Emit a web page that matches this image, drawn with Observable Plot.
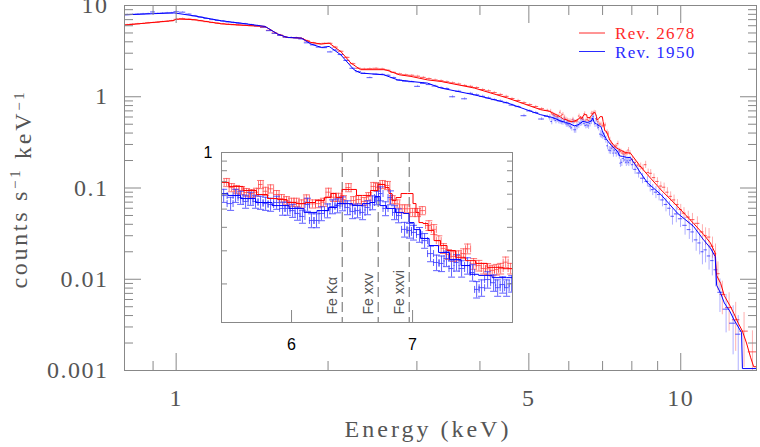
<!DOCTYPE html>
<html><head><meta charset="utf-8">
<script src="https://cdn.jsdelivr.net/npm/d3@7"></script>
<script src="https://cdn.jsdelivr.net/npm/@observablehq/plot@0.6"></script>
<style>
html,body{margin:0;padding:0;background:#fff;}
#wrap{position:relative;width:760px;height:447px;overflow:hidden;}
#inset{position:absolute;left:190px;top:140px;}
</style></head><body>
<div id="wrap"><div id="main"></div><div id="inset"></div></div>
<script>
// ---------- data: [energy keV, counts s^-1 keV^-1, error %] ----------
const redLow = [[0.80,6.15,1.5],[0.82,6.25,1.5],[0.84,6.3,1.5],[0.86,6.35,1.5],[0.88,6.45,1.5],[0.90,6.5,1.5],[0.92,6.55,1.5],[0.94,6.65,1.5],[0.96,6.7,1.5],[0.98,6.8,1.5],[1.00,7.05,1.5],[1.03,7.2,1.5],[1.06,7.1,1.5],[1.09,6.95,1.5],[1.12,6.8,1.5],[1.15,6.65,1.5],[1.18,6.5,1.5],[1.21,6.4,1.5],[1.24,6.3,1.5],[1.27,6.2,1.5],[1.30,6.15,1.5],[1.33,6.1,1.5],[1.37,6.05,1.5],[1.41,6.0,1.5],[1.45,5.95,1.5],[1.49,5.75,1.5],[1.53,5.35,1.5],[1.57,5.0,1.5],[1.61,4.75,1.5],[1.65,4.5,1.5],[1.69,4.45,1.5],[1.73,4.45,1.5],[1.77,4.35,1.5],[1.82,4.1,1.5],[1.87,3.9,1.5],[1.92,3.8,1.5],[1.97,3.85,1.5],[2.02,3.85,2],[2.07,3.5,2],[2.12,3.15,2],[2.18,2.7,2],[2.24,2.3,2],[2.30,2.05,2],[2.36,2.02,2],[2.42,2.03,2],[2.49,2.05,2],[2.56,2.02,2],[2.63,1.95,2],[2.70,1.85,2],[2.77,1.78,2],[2.85,1.74,2],[2.93,1.72,2],[3.01,1.68,2.5],[3.09,1.63,2.5],[3.17,1.58,2.5],[3.26,1.53,2.5],[3.35,1.50,2.5],[3.44,1.46,2.5],[3.53,1.42,2.5],[3.63,1.38,2.5],[3.73,1.33,2.5],[3.83,1.30,2.5],[3.94,1.26,2.5],[4.05,1.20,3],[4.16,1.16,3],[4.27,1.11,3],[4.39,1.06,3],[4.51,1.01,3],[4.63,0.955,3],[4.76,0.91,3],[4.89,0.86,3],[5.02,0.82,3],[5.16,0.78,3],[5.30,0.74,3],[5.44,0.71,3]];
const blueLow = [[0.80,7.95,1.5],[0.82,8.0,1.5],[0.84,8.05,1.5],[0.86,8.1,1.5],[0.88,8.15,1.5],[0.90,8.5,1.5],[0.92,8.2,1.5],[0.94,8.25,1.5],[0.96,8.3,1.5],[0.98,8.3,1.5],[1.00,8.55,1.5],[1.03,8.45,1.5],[1.06,8.05,1.5],[1.09,7.7,1.5],[1.12,7.45,1.5],[1.15,7.2,1.5],[1.18,7.0,1.5],[1.21,6.85,1.5],[1.24,6.75,1.5],[1.27,6.6,1.5],[1.30,6.5,1.5],[1.33,6.4,1.5],[1.37,6.3,1.5],[1.41,6.15,1.5],[1.45,6.0,1.5],[1.49,5.8,1.5],[1.53,5.3,1.5],[1.57,4.95,1.5],[1.61,4.7,1.5],[1.65,4.5,1.5],[1.69,4.45,1.5],[1.73,4.4,1.5],[1.77,4.3,1.5],[1.82,3.9,1.5],[1.87,3.7,1.5],[1.92,3.5,1.5],[1.97,3.45,1.5],[2.02,3.1,2],[2.07,3.25,2],[2.12,2.9,2],[2.18,2.5,2],[2.24,2.05,2],[2.30,1.88,2],[2.36,1.8,2],[2.42,1.62,2],[2.49,1.77,2],[2.56,1.76,2],[2.63,1.72,2],[2.70,1.62,2],[2.77,1.52,2],[2.85,1.48,2],[2.93,1.46,2],[3.01,1.30,2.5],[3.09,1.40,2.5],[3.17,1.36,2.5],[3.26,1.31,2.5],[3.35,1.26,2.5],[3.44,1.23,2.5],[3.53,1.0,3],[3.63,1.15,2.5],[3.73,0.95,3],[3.83,1.09,2.5],[3.94,1.05,2.5],[4.05,1.01,3],[4.16,0.97,3],[4.27,0.93,3],[4.39,0.90,3],[4.51,0.86,3],[4.63,0.81,3],[4.76,0.78,3],[4.89,0.62,3.5],[5.02,0.70,3],[5.16,0.67,3],[5.30,0.57,3.5],[5.44,0.61,3]];
const redFe = [[5.524,0.693,5],[5.559,0.651,5],[5.594,0.636,5],[5.630,0.628,5],[5.666,0.613,5],[5.702,0.605,5],[5.738,0.615,5],[5.768,0.676,5],[5.805,0.622,5],[5.842,0.641,5],[5.887,0.598,5],[5.924,0.569,5],[5.962,0.555,5],[6.000,0.544,5],[6.038,0.544,5],[6.077,0.533,5],[6.115,0.567,5],[6.162,0.533,5],[6.210,0.535,5],[6.249,0.544,5],[6.289,0.615,5],[6.329,0.578,5],[6.370,0.578,5],[6.410,0.562,5],[6.452,0.651,5],[6.493,0.555,5],[6.535,0.562,5],[6.581,0.549,5],[6.619,0.583,5],[6.661,0.660,5],[6.695,0.654,5],[6.737,0.676,5],[6.780,0.668,5],[6.821,0.562,5],[6.864,0.533,5],[6.908,0.502,5],[6.952,0.502,5],[7.000,0.480,5],[7.044,0.480,5],[7.087,0.491,5],[7.147,0.409,6],[7.192,0.390,6],[7.238,0.340,6],[7.281,0.309,6],[7.328,0.287,6],[7.375,0.280,6],[7.422,0.283,6],[7.470,0.290,6],[7.508,0.3075,6],[7.566,0.256,6.5],[7.617,0.2505,6.5],[7.663,0.2415,6.5],[7.702,0.241,6.5],[7.748,0.236,6.5],[7.791,0.2385,6.5],[7.831,0.2415,6.5],[7.881,0.261,6.5],[7.931,0.2415,6.5]];
const blueFe = [[5.503,0.590,8],[5.552,0.535,8],[5.587,0.590,8],[5.623,0.576,8],[5.659,0.549,8],[5.695,0.569,8],[5.731,0.549,8],[5.768,0.542,8],[5.805,0.535,8],[5.842,0.529,8],[5.887,0.542,8],[5.932,0.504,8],[5.969,0.504,8],[6.008,0.491,8],[6.046,0.474,8],[6.084,0.457,8],[6.123,0.529,8],[6.154,0.435,8.5],[6.194,0.435,8.5],[6.233,0.474,8.5],[6.281,0.491,8.5],[6.321,0.516,8.5],[6.362,0.522,8.5],[6.402,0.535,8.5],[6.443,0.510,8.5],[6.485,0.486,8.5],[6.526,0.491,8.5],[6.568,0.480,8.5],[6.610,0.510,8.5],[6.652,0.542,8.5],[6.686,0.576,8.5],[6.720,0.605,8.5],[6.763,0.504,8.5],[6.806,0.576,8.5],[6.841,0.480,8.5],[6.876,0.462,8.5],[6.929,0.390,9],[6.973,0.385,9],[7.008,0.376,9],[7.062,0.366,9],[7.108,0.340,9],[7.162,0.290,9.5],[7.217,0.260,9.5],[7.263,0.257,9.5],[7.309,0.273,9.5],[7.356,0.2415,10],[7.403,0.260,10],[7.451,0.2415,10],[7.508,0.2505,10],[7.556,0.230,10],[7.595,0.187,10],[7.643,0.191,10],[7.702,0.211,10],[7.761,0.203,10],[7.801,0.191,10],[7.851,0.1985,10],[7.891,0.191,10],[7.941,0.201,10]];
const redHigh = [[8.02,0.205,8],[8.12,0.19,8],[8.22,0.178,8],[8.33,0.172,9],[8.42,0.165,9],[8.52,0.18,9],[8.62,0.148,9],[8.72,0.145,10],[8.85,0.13,10],[8.99,0.118,10],[9.13,0.105,11],[9.27,0.102,11],[9.41,0.09,12],[9.55,0.081,12],[9.70,0.074,13],[9.85,0.066,13],[10.0,0.058,14],[10.15,0.053,15],[10.35,0.048,16],[10.55,0.045,17],[10.79,0.041,18],[11.04,0.033,20],[11.2,0.030,22],[11.38,0.029,24],[11.56,0.023,26],[11.72,0.019,28],[11.85,0.0115,35],[12.09,0.0068,40],[12.47,0.0049,45],[12.85,0.0036,55],[13.35,0.0027,60],[13.87,0.0016,70]];
const blueHigh = [[8.02,0.18,12],[8.12,0.16,12],[8.25,0.146,12],[8.40,0.128,13],[8.59,0.118,13],[8.70,0.105,14],[8.80,0.096,14],[8.93,0.09,15],[9.06,0.085,15],[9.2,0.074,16],[9.35,0.066,17],[9.5,0.06,18],[9.63,0.049,20],[9.8,0.052,20],[9.99,0.046,20],[10.2,0.039,22],[10.4,0.035,22],[10.55,0.033,24],[10.73,0.027,25],[10.9,0.025,26],[11.04,0.020,28],[11.2,0.021,28],[11.38,0.018,30],[11.55,0.016,32],[11.73,0.0127,35],[11.96,0.0072,40],[12.3,0.0047,45],[12.7,0.0033,55],[13.0,0.0025,60]];

// ---------- model curves: [energy keV, counts s^-1 keV^-1] ----------
const redModelLow = [[0.79,6.1],[0.99,6.85],[1.0,7.1],[1.085,7.0],[1.23,6.3],[1.39,6.03],[1.50,5.9],[1.59,4.86],[1.66,4.47],[1.77,4.4],[1.85,3.94],[1.94,3.78],[2.01,3.87],[2.12,3.13],[2.22,2.34],[2.32,1.98],[2.60,1.98],[2.77,1.74],[2.92,1.67],[3.15,1.53],[3.35,1.47],[3.90,1.245],[4.54,0.967],[5.28,0.721]];
const blueModelLow = [[0.79,7.9],[0.99,8.3],[1.085,7.7],[1.23,6.8],[1.39,6.25],[1.50,5.9],[1.59,4.86],[1.66,4.47],[1.77,4.4],[1.85,3.78],[1.94,3.47],[2.01,3.56],[2.12,2.88],[2.25,1.98],[2.32,1.82],[2.58,1.74],[2.75,1.53],[2.92,1.47],[3.15,1.41],[3.35,1.245],[3.90,1.05],[4.54,0.853],[5.28,0.635]];
const redModelFe = [[5.493,0.693],[5.587,0.660],[5.695,0.628],[5.782,0.598],[5.857,0.569],[5.932,0.562],[6.000,0.542],[6.069,0.535],[6.147,0.542],[6.226,0.555],[6.289,0.576],[6.329,0.605],[6.370,0.576],[6.427,0.636],[6.509,0.636],[6.526,0.591],[6.610,0.591],[6.661,0.628],[6.737,0.676],[6.780,0.651],[6.806,0.605],[6.832,0.555],[6.876,0.576],[6.920,0.605],[6.991,0.605],[7.017,0.535],[7.044,0.480],[7.071,0.424],[7.117,0.419],[7.162,0.385],[7.226,0.340],[7.281,0.320],[7.347,0.301],[7.441,0.277],[7.536,0.266],[7.633,0.257],[7.761,0.245],[7.950,0.241]];
const blueModelFe = [[5.493,0.605],[5.573,0.591],[5.673,0.569],[5.790,0.542],[5.917,0.522],[6.046,0.504],[6.147,0.480],[6.249,0.491],[6.329,0.510],[6.386,0.535],[6.443,0.535],[6.526,0.522],[6.610,0.535],[6.652,0.542],[6.695,0.583],[6.737,0.522],[6.806,0.504],[6.893,0.480],[6.946,0.474],[6.991,0.424],[7.035,0.389],[7.108,0.349],[7.190,0.320],[7.281,0.294],[7.394,0.270],[7.498,0.2505],[7.566,0.225],[7.663,0.222],[7.831,0.216],[7.950,0.216]];
const redModelHigh = [[8.3,0.175],[8.59,0.14],[9.13,0.096],[9.85,0.063],[10.6,0.041],[11.1,0.031],[11.45,0.025],[11.70,0.0194],[11.78,0.0110],[12.0,0.0090],[12.2,0.0066],[12.5,0.0052],[12.75,0.0042],[13.0,0.0033],[13.25,0.0027],[13.5,0.0020],[13.75,0.0014],[13.95,0.0011],[14.13,0.0011]];
const blueModelHigh = [[8.3,0.15],[8.59,0.114],[9.13,0.085],[9.85,0.053],[10.6,0.038],[11.1,0.027],[11.45,0.022],[11.70,0.0178],[11.78,0.0086],[12.0,0.0070],[12.2,0.0055],[12.5,0.0045],[12.75,0.0036],[13.0,0.0030],[13.2,0.0026],[13.25,0.00105],[14.13,0.00105]];

// ---------- axes / labels ----------
const xDomain = [0.79, 14.13];
const yDomain = [0.001, 10];
const xMajor = [1, 5, 10];
const xMinor = [0.9, 2, 3, 4, 6, 7, 8, 9];
const yMajor = [0.001, 0.01, 0.1, 1, 10];
const insetXDomain = [5.488, 7.95];
const insetYDomain = [0.1247, 1];
const insetXTicks = [6, 7];
const insetYMajor = [1];
const insetYMinor = [0.2, 0.3, 0.4, 0.5, 0.6, 0.7, 0.8, 0.9];
const feEnergies = [6.4, 6.7, 6.97];
const feLabels = ["Fe Kα", "Fe xxv", "Fe xxvi"];
const seriesNames = ["Rev. 2678", "Rev. 1950"];
const xTitle = "Energy (keV)";

const yMinor = [];
for (const d of [0.001, 0.01, 0.1, 1]) for (let k = 2; k <= 9; k++) yMinor.push(+(d * k).toPrecision(3));

const RED = "#ff0000", BLUE = "#0000ff";
const RED_D = "#ff3a3a", BLUE_D = "#3a3aff";

function binned(rows) {
  return rows.map((r, i) => {
    const [E, v, pct] = r;
    const p = rows[i - 1], n = rows[i + 1];
    const elo = p ? Math.sqrt(p[0] * E) : E * E / Math.sqrt(n[0] * E);
    const ehi = n ? Math.sqrt(n[0] * E) : E * E / Math.sqrt(p[0] * E);
    const s = v * pct / 100;
    return {E, v, elo, ehi, vlo: Math.max(v - s, 1e-5), vhi: v + s};
  });
}

const redMain = binned([...redLow, ...redFe, ...redHigh]);
const blueMain = binned([...blueLow, ...blueFe, ...blueHigh]);
const redModel = [...redModelLow, ...redModelFe, ...redModelHigh];
const blueModel = [...blueModelLow, ...blueModelFe, ...blueModelHigh];

const errMarks = (d, c) => [
  Plot.ruleX(d, {x: "E", y1: "vlo", y2: "vhi", stroke: c, strokeOpacity: 0.4, clip: true}),
  Plot.ruleY(d, {y: "v", x1: "elo", x2: "ehi", stroke: c, strokeOpacity: 0.85, clip: true})
];
const TK = "#888";
const blank = () => "";

const main = Plot.plot({
  width: 760, height: 447,
  marginLeft: 124, marginRight: 4, marginTop: 5, marginBottom: 77,
  x: {type: "log", domain: xDomain, label: null},
  y: {type: "log", domain: yDomain, label: null},
  style: {fontFamily: "'Liberation Serif', serif", fontSize: "24px", color: "#555", background: "transparent", letterSpacing: "1.5px"},
  marks: [
    ...errMarks(redMain, RED_D),
    ...errMarks(blueMain, BLUE_D),
    Plot.line(redModel, {x: d => d[0], y: d => d[1], stroke: RED, strokeWidth: 1, clip: true}),
    Plot.line(blueModel, {x: d => d[0], y: d => d[1], stroke: BLUE, strokeWidth: 1, clip: true}),
    Plot.frame({stroke: TK}),
    Plot.axisY({anchor: "left", ticks: yMajor, tickSize: 17, dx: 17, tickFormat: blank, stroke: TK, label: null}),
    Plot.axisY({anchor: "left", ticks: yMinor, tickSize: 9, dx: 9, tickFormat: blank, stroke: TK, label: null}),
    Plot.axisY({anchor: "right", ticks: yMajor, tickSize: 17, dx: -17, tickFormat: blank, stroke: TK, label: null}),
    Plot.axisY({anchor: "right", ticks: yMinor, tickSize: 9, dx: -9, tickFormat: blank, stroke: TK, label: null}),
    Plot.axisX({anchor: "bottom", ticks: xMajor, tickSize: 17, dy: -17, tickFormat: blank, stroke: TK, label: null}),
    Plot.axisX({anchor: "bottom", ticks: xMinor, tickSize: 9, dy: -9, tickFormat: blank, stroke: TK, label: null}),
    Plot.axisX({anchor: "top", ticks: xMajor, tickSize: 17, dy: 17, tickFormat: blank, stroke: TK, label: null}),
    Plot.axisX({anchor: "top", ticks: xMinor, tickSize: 9, dy: 9, tickFormat: blank, stroke: TK, label: null}),
    Plot.axisY({anchor: "left", ticks: yMajor, tickSize: 0, tickPadding: 16, tickFormat: d => String(d), label: null}),
    Plot.axisX({anchor: "bottom", ticks: xMajor, tickSize: 0, tickPadding: 18, tickFormat: d => String(d), label: null})
  ]
});
document.getElementById("main").appendChild(main);

const svg = d3.select(main);
// legend
const legendColors = ["#ff2a2a", "#2a2aff"];
seriesNames.forEach((name, i) => {
  const y = 33 + i * 18.5;
  svg.append("line").attr("x1", 579).attr("x2", 605).attr("y1", y).attr("y2", y)
    .attr("stroke", legendColors[i]).attr("stroke-width", 1);
  svg.append("text").attr("x", 615).attr("y", y + 6).attr("fill", legendColors[i])
    .attr("text-anchor", "start")
    .attr("font-family", "'Liberation Serif', serif").attr("font-size", 17)
    .attr("letter-spacing", "1.3px").text(name);
});
// axis titles
svg.append("text").attr("x", 428).attr("y", 437).attr("text-anchor", "middle")
  .attr("font-family", "'Liberation Serif', serif").attr("font-size", 24)
  .attr("letter-spacing", "3px").attr("fill", "#555").text(xTitle);
const yl = svg.append("text").attr("transform", "translate(27,189) rotate(-90)")
  .attr("text-anchor", "middle").attr("font-family", "'Liberation Serif', serif")
  .attr("font-size", 24).attr("letter-spacing", "2.7px").attr("fill", "#555");
yl.append("tspan").text("counts s");
yl.append("tspan").attr("dy", "-0.45em").attr("font-size", 15).text("−1");
yl.append("tspan").attr("dy", "0.45em").text(" keV");
yl.append("tspan").attr("dy", "-0.45em").attr("font-size", 15).text("−1");

// ---------- inset ----------
const redIn = binned(redFe), blueIn = binned(blueFe);
const hcap = {draw(ctx, size) { const r = Math.sqrt(size / Math.PI); ctx.moveTo(-r, 0); ctx.lineTo(r, 0); }};
const vcap = {draw(ctx, size) { const r = Math.sqrt(size / Math.PI); ctx.moveTo(0, -r); ctx.lineTo(0, r); }};
const capMarks = (d, c, r, op) => [
  Plot.ruleX(d, {x: "E", y1: "vlo", y2: "vhi", stroke: c, strokeOpacity: op, clip: true}),
  Plot.ruleY(d, {y: "v", x1: "elo", x2: "ehi", stroke: c, strokeOpacity: op, clip: true}),
  Plot.dot(d, {x: "E", y: "vhi", symbol: hcap, r, stroke: c, strokeWidth: 1, strokeOpacity: op, clip: true}),
  Plot.dot(d, {x: "E", y: "vlo", symbol: hcap, r, stroke: c, strokeWidth: 1, strokeOpacity: op, clip: true}),
  Plot.dot(d, {x: "elo", y: "v", symbol: vcap, r, stroke: c, strokeWidth: 1, strokeOpacity: op, clip: true}),
  Plot.dot(d, {x: "ehi", y: "v", symbol: vcap, r, stroke: c, strokeWidth: 1, strokeOpacity: op, clip: true})
];
const feData = feEnergies.map((E, i) => ({E, label: feLabels[i]}));
const inset = Plot.plot({
  width: 330, height: 215,
  marginLeft: 31, marginRight: 8, marginTop: 12, marginBottom: 33,
  x: {type: "log", domain: insetXDomain, label: null},
  y: {type: "log", domain: insetYDomain, label: null},
  style: {fontFamily: "'Liberation Sans', sans-serif", fontSize: "16px", color: "#000", background: "transparent"},
  marks: [
    Plot.ruleX(feData, {x: "E", stroke: "#666", strokeDasharray: "10,5"}),
    Plot.text(feData, {x: "E", frameAnchor: "bottom", text: "label", rotate: -90, textAnchor: "start", lineAnchor: "bottom", dx: -5, dy: -8, fill: "#555", fontSize: 14, fontFamily: "'Liberation Sans', sans-serif", letterSpacing: "1px"}),
    ...capMarks(redIn, RED_D, 3.5, 0.7),
    ...capMarks(blueIn, BLUE_D, 3.5, 0.8),
    Plot.line(redModelFe, {x: d => d[0], y: d => d[1], stroke: RED, strokeWidth: 1, curve: "step", clip: true}),
    Plot.line(blueModelFe, {x: d => d[0], y: d => d[1], stroke: BLUE, strokeWidth: 1, curve: "step", clip: true}),
    Plot.frame({stroke: TK}),
    Plot.axisY({anchor: "left", ticks: insetYMinor, tickSize: 6, dx: 6, tickFormat: blank, stroke: TK, label: null}),
    Plot.axisY({anchor: "right", ticks: insetYMinor, tickSize: 6, dx: -6, tickFormat: blank, stroke: TK, label: null}),
    Plot.axisX({anchor: "bottom", ticks: insetXTicks, tickSize: 12, dy: -12, tickFormat: blank, stroke: TK, label: null}),
    Plot.axisY({anchor: "left", ticks: insetYMajor, tickSize: 0, tickPadding: 9, tickFormat: d => String(d), label: null}),
    Plot.axisX({anchor: "bottom", ticks: insetXTicks, tickSize: 0, tickPadding: 16, tickFormat: d => String(d), label: null})
  ]
});
document.getElementById("inset").appendChild(inset);
</script>
</body></html>
